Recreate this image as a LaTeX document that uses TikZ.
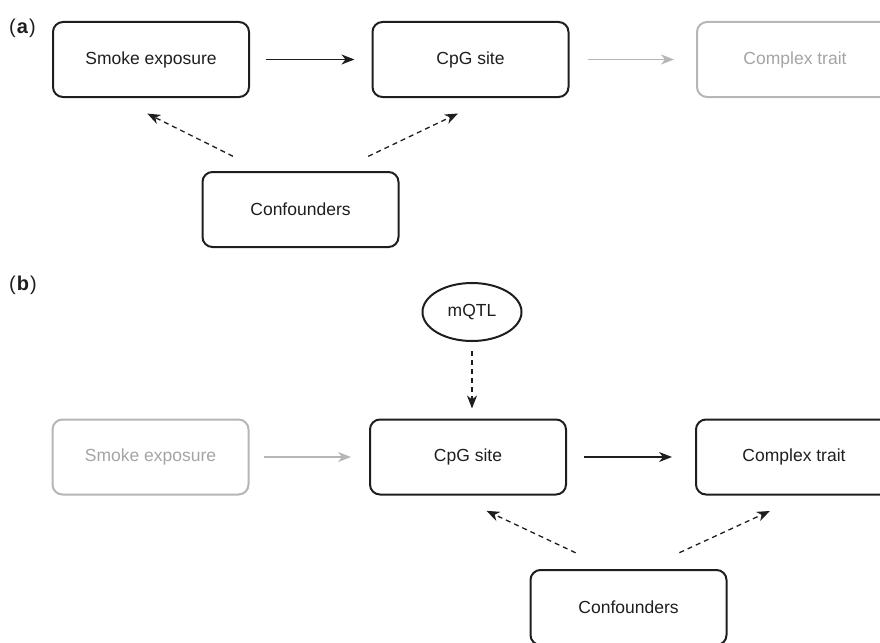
\documentclass[tikz,border=0pt]{standalone}
\usepackage{fontspec}
\setmainfont{Liberation Sans}
\usetikzlibrary{arrows.meta,calc,shapes.geometric}
\definecolor{ink}{HTML}{1E1E1E}
\definecolor{faded}{HTML}{B6B6B6}
\definecolor{fadedtext}{HTML}{A4A4A4}
\begin{document}
\begin{tikzpicture}[x=1pt,y=-1pt,
  box/.style={draw=ink,line width=2pt,rounded corners=10pt,minimum width=196pt,minimum height=75pt,inner sep=0pt,font=\fontsize{17.5}{20}\selectfont,text=ink},
  fadedbox/.style={box,draw=faded,text=fadedtext},
  oval/.style={ellipse,draw=ink,line width=2pt,minimum width=99pt,minimum height=58pt,inner sep=0pt,font=\fontsize{17.5}{20}\selectfont,text=ink},
  arr/.style={draw=ink,line width=1.3pt,-{Stealth[length=13pt,width=10pt,inset=4pt]}},
  fadedarr/.style={arr,draw=faded},
  dasharr/.style={arr,dash pattern=on 5pt off 4pt},
  panel/.style={font=\fontsize{20}{24}\selectfont,text=ink,inner sep=0pt,anchor=north west}
]
\useasboundingbox (0,0) rectangle (880,642);
\clip (0,0) rectangle (880,642);
% panel a
\node[panel] (la) at (9,19) {(\kern1pt\textbf{a}\kern1pt)};
\node[box] (smokeA) at (151,59.5) {Smoke exposure};
\node[box] (cpgA) at (470.5,59.5) {CpG site};
\node[fadedbox] (traitA) at (795,59.5) {Complex trait};
\node[box] (confA) at (300.5,209.5) {Confounders};
\draw[arr,shorten <=16pt,shorten >=17pt] (smokeA.east) -- (cpgA.west);
\draw[fadedarr,shorten <=18pt,shorten >=22pt] (cpgA.east) -- (traitA.west);
\draw[dasharr,shorten <=33pt,shorten >=35pt] ($(confA.north)+(-38,0)$) -- ($(smokeA.south)+(-35,0)$);
\draw[dasharr,shorten <=34pt,shorten >=36pt] ($(confA.north)+(37,0)$) -- ($(cpgA.south)+(20,0)$);
% panel b
\node[panel] (lb) at (9,276) {(\kern1pt\textbf{b}\kern1pt)};
\node[oval] (mqtl) at (472,312) {mQTL};
\node[fadedbox] (smokeB) at (150.5,457) {Smoke exposure};
\node[box] (cpgB) at (468,457) {CpG site};
\node[box] (traitB) at (794,457) {Complex trait};
\node[box] (confB) at (628.5,607.5) {Confounders};
\draw[dasharr,shorten <=9pt,shorten >=10pt] (mqtl.south) -- (mqtl.south |- cpgB.north);
\draw[fadedarr,shorten <=14pt,shorten >=18pt] (smokeB.east) -- (cpgB.west);
\draw[arr,shorten <=17pt,shorten >=23pt] (cpgB.east) -- (traitB.west);
\draw[dasharr,shorten <=38pt,shorten >=36pt] ($(confB.north)+(-18.5,0)$) -- ($(cpgB.south)+(-14,0)$);
\draw[dasharr,shorten <=39pt,shorten >=37pt] ($(confB.north)+(15.5,0)$) -- ($(traitB.south)+(9.5,0)$);
\end{tikzpicture}
\end{document}
